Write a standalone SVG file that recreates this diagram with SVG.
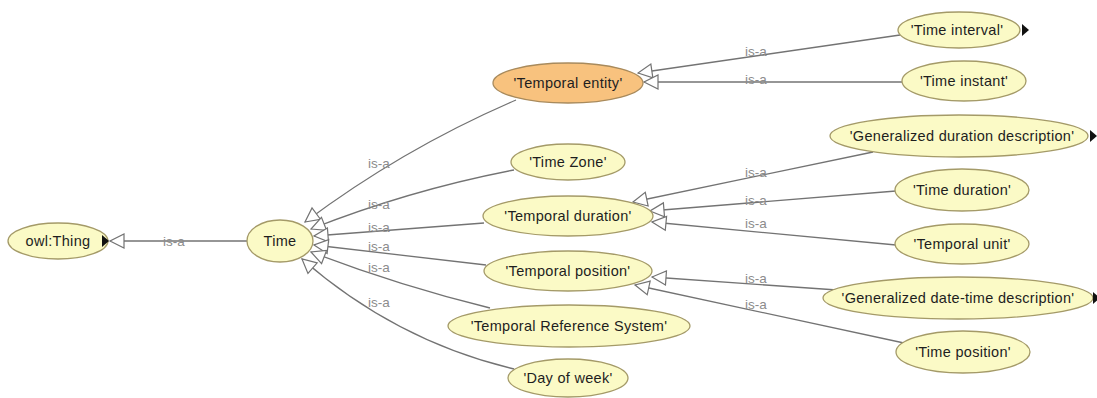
<svg xmlns="http://www.w3.org/2000/svg" width="1097" height="398" viewBox="0 0 1097 398">
  <style>
    .node ellipse { fill: #fbfac6; stroke: #a49a68; stroke-width: 1.3; }
    .node.sel ellipse { fill: #f8c27e; stroke: #a88a5c; }
    .node text { font-family: "Liberation Sans", Arial, sans-serif; font-size: 14.5px; letter-spacing: 0.3px; fill: #1e1e1e; text-anchor: middle; dominant-baseline: central; }
    .expand { fill: #111; stroke: none; }
    .edge { fill: none; stroke: #737373; stroke-width: 1.3; marker-end: url(#isa); }
    .lbl { font-family: "Liberation Sans", Arial, sans-serif; font-size: 13.5px; fill: #8c8c8c; dominant-baseline: central; }
  </style>
  <defs>
    <!-- hollow triangle head for the is-a relation -->
    <marker id="isa" viewBox="-16 -9 18 18" refX="0" refY="0" markerWidth="18" markerHeight="18" markerUnits="userSpaceOnUse" orient="auto">
      <path d="M0,0 L-14,-7 L-14,7 Z" fill="#ffffff" stroke="#737373" stroke-width="1.2" stroke-linejoin="miter"/>
    </marker>
  </defs>
  <rect width="1097" height="398" fill="#ffffff"/>

  <!-- connectors, drawn from subclass to superclass -->
  <g id="connectors">
    <path class="edge" d="M247,241 L110,241"/>
    <path class="edge" d="M516,100 Q404,148 305,222"/>
    <path class="edge" d="M514,170 Q410,190 311,229"/>
    <path class="edge" d="M484,223 L314,236"/>
    <path class="edge" d="M486,265 L314,245"/>
    <path class="edge" d="M490,308 Q400,286 311,252"/>
    <path class="edge" d="M514,369 Q396,341 302,259"/>
    <path class="edge" d="M900,35 L638,73"/>
    <path class="edge" d="M902,82 L644,82"/>
    <path class="edge" d="M873,152 L633,202"/>
    <path class="edge" d="M896,191 L650,211"/>
    <path class="edge" d="M896,245 L652,222"/>
    <path class="edge" d="M837,290 L652,277"/>
    <path class="edge" d="M904,343 L635,285"/>

    <text class="lbl" x="163" y="241">is-a</text>
    <text class="lbl" x="368" y="163">is-a</text>
    <text class="lbl" x="368" y="204">is-a</text>
    <text class="lbl" x="368" y="227">is-a</text>
    <text class="lbl" x="368" y="246">is-a</text>
    <text class="lbl" x="368" y="267">is-a</text>
    <text class="lbl" x="368" y="302">is-a</text>
    <text class="lbl" x="745" y="51">is-a</text>
    <text class="lbl" x="745" y="79">is-a</text>
    <text class="lbl" x="745" y="172">is-a</text>
    <text class="lbl" x="745" y="200">is-a</text>
    <text class="lbl" x="745" y="223">is-a</text>
    <text class="lbl" x="745" y="278">is-a</text>
    <text class="lbl" x="745" y="304">is-a</text>
  </g>

  <g id="owl-thing" class="node">
    <ellipse cx="58" cy="241" rx="50" ry="18"/>
    <text x="58" y="241">owl:Thing</text>
    <polygon class="expand" points="102,235 109,241 102,247"/>
  </g>
  <g id="time" class="node">
    <ellipse cx="280" cy="241" rx="33" ry="21"/>
    <text x="280" y="241">Time</text>
  </g>
  <g id="temporal-entity" class="node sel">
    <ellipse cx="568" cy="83" rx="75" ry="20"/>
    <text x="568" y="83">'Temporal entity'</text>
  </g>
  <g id="time-zone" class="node">
    <ellipse cx="568" cy="162" rx="57" ry="18"/>
    <text x="568" y="162">'Time Zone'</text>
  </g>
  <g id="temporal-duration" class="node">
    <ellipse cx="568" cy="216" rx="85" ry="20"/>
    <text x="568" y="216">'Temporal duration'</text>
  </g>
  <g id="temporal-position" class="node">
    <ellipse cx="568" cy="271" rx="84" ry="20"/>
    <text x="568" y="271">'Temporal position'</text>
  </g>
  <g id="temporal-reference-system" class="node">
    <ellipse cx="569" cy="326" rx="121" ry="21"/>
    <text x="569" y="326">'Temporal Reference System'</text>
  </g>
  <g id="day-of-week" class="node">
    <ellipse cx="568" cy="378" rx="60" ry="19"/>
    <text x="568" y="378">'Day of week'</text>
  </g>
  <g id="time-interval" class="node">
    <ellipse cx="959" cy="30" rx="61" ry="18"/>
    <text x="957" y="30">'Time interval'</text>
    <polygon class="expand" points="1022,24 1029,30 1022,36"/>
  </g>
  <g id="time-instant" class="node">
    <ellipse cx="964" cy="81" rx="62" ry="20"/>
    <text x="964" y="81">'Time instant'</text>
  </g>
  <g id="generalized-duration-description" class="node">
    <ellipse cx="959" cy="136" rx="129" ry="21"/>
    <text x="962" y="136">'Generalized duration description'</text>
    <polygon class="expand" points="1090,130 1097,136 1090,142"/>
  </g>
  <g id="time-duration" class="node">
    <ellipse cx="962" cy="190" rx="67" ry="21"/>
    <text x="962" y="190">'Time duration'</text>
  </g>
  <g id="temporal-unit" class="node">
    <ellipse cx="962" cy="244" rx="67" ry="20"/>
    <text x="962" y="244">'Temporal unit'</text>
  </g>
  <g id="generalized-date-time-description" class="node">
    <ellipse cx="958" cy="298" rx="135" ry="21"/>
    <text x="958" y="298">'Generalized date-time description'</text>
    <polygon class="expand" points="1093,292 1100,298 1093,304"/>
  </g>
  <g id="time-position" class="node">
    <ellipse cx="963" cy="352" rx="67" ry="21"/>
    <text x="963" y="352">'Time position'</text>
  </g>
</svg>
